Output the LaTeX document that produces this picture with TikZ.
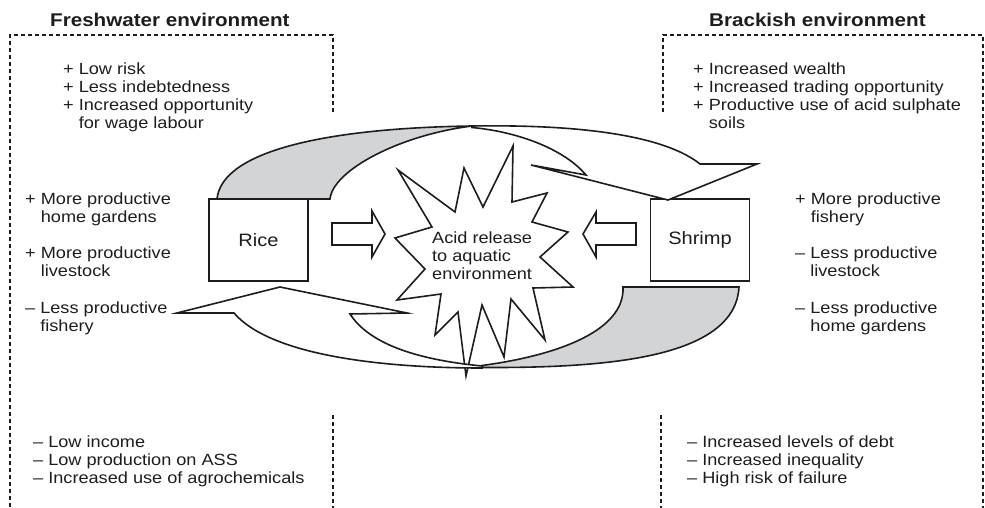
\documentclass[tikz,border=0pt]{standalone}
\usepackage{fontspec}
\setmainfont[FakeStretch=1.12]{Liberation Sans}
\definecolor{ribgrey}{RGB}{211,212,214}
\definecolor{ink}{RGB}{30,28,29}
\begin{document}
\begin{tikzpicture}[x=1pt,y=-1pt,
  txt/.style={anchor=base west,inner sep=0pt,text=ink,font=\fontsize{16.2}{18}\selectfont},
  ttl/.style={anchor=base west,inner sep=0pt,text=ink,font=\fontsize{18.4}{20}\selectfont\bfseries},
  dsh/.style={draw=ink,line width=1.2pt,dash pattern=on 4pt off 3pt},
  shp/.style={draw=ink,line width=1.6pt,line join=miter,miter limit=20},
  crop/.style={draw=ink,line width=1.5pt,minimum width=99pt,minimum height=82pt,inner sep=0pt,text=ink,font=\fontsize{17.9}{20}\selectfont}]
\useasboundingbox (0,0) rectangle (985,508);

% titles
\node[ttl] (t1) at (50,26.7) {Freshwater environment};
\node[ttl] (t2) at (709,26.7) {Brackish environment};

% dashed frames
\draw[dsh] (333,112) -- (333,35) -- (10,35) -- (10,508);
\draw[dsh] (333,415) -- (333,508);
\draw[dsh] (663,112) -- (663,35) -- (983,35) -- (983,508);
\draw[dsh] (661,415) -- (661,508);

% left texts
\node[txt] (a1) at (63,75) {+ Low risk};
\node[txt] (a2) at (63,93) {+ Less indebtedness};
\node[txt] (a3) at (63,111) {+ Increased opportunity};
\node[txt] (a4) at (63,129) {\hphantom{+ }for wage labour};

\node[txt] (b1) at (25,204) {+ More productive};
\node[txt] (b2) at (25,222) {\hphantom{+ }home gardens};
\node[txt] (b3) at (25,258.5) {+ More productive};
\node[txt] (b4) at (25,276.5) {\hphantom{+ }livestock};
\node[txt] (b5) at (25,313) {– Less productive};
\node[txt] (b6) at (25,331) {\hphantom{– }fishery};

\node[txt] (c1) at (33,447) {– Low income};
\node[txt] (c2) at (33,465) {– Low production on ASS};
\node[txt] (c3) at (33,483) {– Increased use of agrochemicals};

% right texts
\node[txt] (d1) at (693,75) {+ Increased wealth};
\node[txt] (d2) at (693,93) {+ Increased trading opportunity};
\node[txt] (d3) at (693,111) {+ Productive use of acid sulphate};
\node[txt] (d4) at (693,129) {\hphantom{+ }soils};

\node[txt] (e1) at (795,204) {+ More productive};
\node[txt] (e2) at (795,222) {\hphantom{+ }fishery};
\node[txt] (e3) at (795,258.5) {– Less productive};
\node[txt] (e4) at (795,276.5) {\hphantom{– }livestock};
\node[txt] (e5) at (795,313) {– Less productive};
\node[txt] (e6) at (795,331) {\hphantom{– }home gardens};

\node[txt] (f1) at (687,447) {– Increased levels of debt};
\node[txt] (f2) at (687,465) {– Increased inequality};
\node[txt] (f3) at (687,483) {– High risk of failure};

% boxes
\node[crop] (rice) at (258.5,240) {Rice};
\node[crop] (shrimp) at (700,240) {Shrimp};

% star
\filldraw[shp,fill=white] (398,170) -- (455,212) -- (464,168) -- (483,207) -- (513,146) -- (512,202)
  -- (547,193) -- (532,222) -- (568,232) -- (540,257) -- (573,287) -- (533,288) -- (545,340)
  -- (511,299) -- (504,357) -- (482,305) -- (466,376) -- (458,312) -- (435,335) -- (441,294)
  -- (397,300) -- (425,269) -- (395,238) -- (432,227) -- cycle;
\node[txt] (s1) at (432,243.5) {Acid release};
\node[txt] (s2) at (432,261.5) {to aquatic};
\node[txt] (s3) at (432,279.5) {environment};

% block arrows
\filldraw[shp,fill=white] (332,223) -- (372,223) -- (372,211) -- (385,234) -- (372,257) -- (372,245) -- (332,245) -- cycle;
\filldraw[shp,fill=white] (636,223) -- (596,223) -- (596,212) -- (583,234) -- (596,257) -- (596,245) -- (636,245) -- cycle;

% top ribbon (rice -> shrimp)
\filldraw[shp,fill=ribgrey] (217,199) .. controls (222,150) and (330,128) .. (472,126)
  .. controls (400,135) and (333,170) .. (330,199) -- cycle;
\filldraw[shp,fill=white] (472,126) .. controls (600,124) and (670,140) .. (700,164)
  -- (757,164) -- (668,200) -- (531,165) -- (586,175)
  .. controls (565,150) and (520,132) .. (472,127.5) -- cycle;

% bottom ribbon (shrimp -> rice)
\filldraw[shp,fill=white] (482,366) .. controls (420,360) and (370,345) .. (350,314)
  -- (407,313) -- (280,287) -- (177,313) -- (234,313)
  .. controls (270,355) and (380,368) .. (482,368) -- cycle;
\filldraw[shp,fill=ribgrey] (482,367.5) .. controls (600,368) and (735,360) .. (739,287)
  -- (623,287) .. controls (625,330) and (560,355) .. (482,365.5) -- cycle;
\end{tikzpicture}
\end{document}
